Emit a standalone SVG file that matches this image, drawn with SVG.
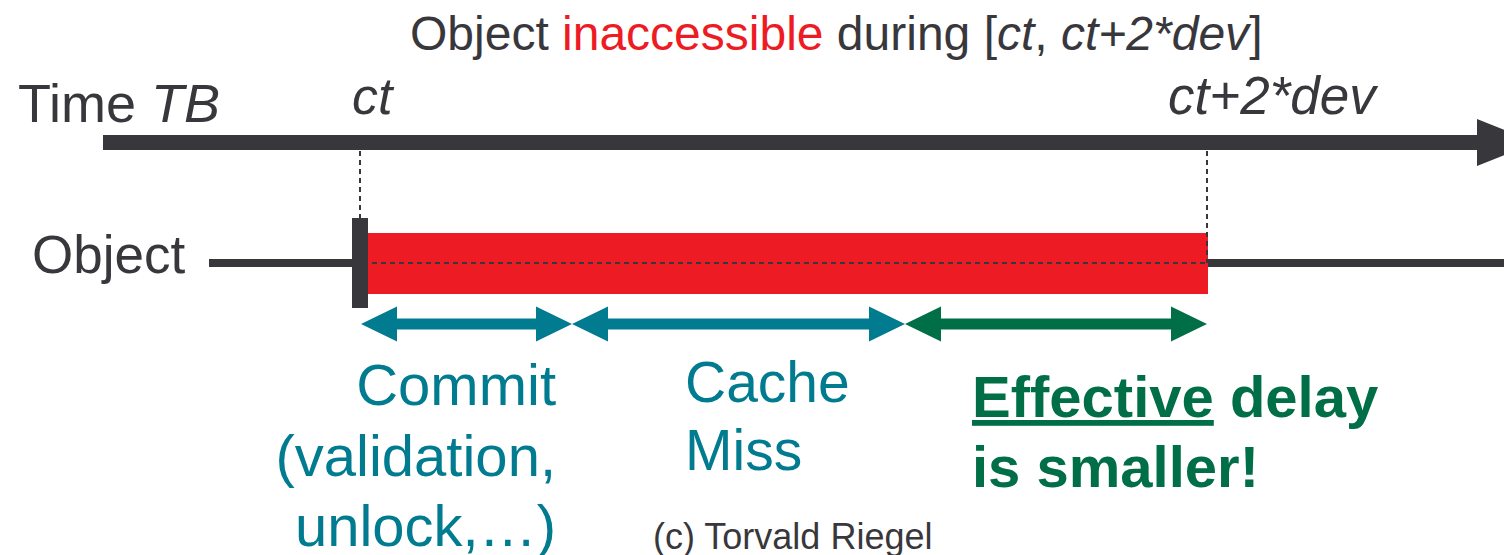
<svg xmlns="http://www.w3.org/2000/svg" width="1504" height="555" viewBox="0 0 1504 555">
  <style>
    text { font-family: "Liberation Sans", Arial, Helvetica, sans-serif; }
    .dark { fill: #38373c; }
    .red { fill: #ed1c24; }
    .teal { fill: #007b8f; }
    .green { fill: #006f47; }
    .it { font-style: italic; }
    .guide { stroke: #38373c; stroke-width: 2; stroke-dasharray: 5 4; fill: none; }
    .lifeline { stroke: #38373c; stroke-width: 8; fill: none; }
  </style>

  <!-- heading -->
  <g id="title">
    <text x="410" y="50" font-size="48" class="dark">Object <tspan class="red">inaccessible</tspan> during [<tspan class="it">ct</tspan>, <tspan class="it">ct+2*dev</tspan>]</text>
  </g>

  <!-- time axis -->
  <g id="time-axis">
    <text x="18" y="122" font-size="54" class="dark">Time <tspan class="it">TB</tspan></text>
    <polygon class="dark" points="103,135 1477,135 1477,119 1536,142.5 1477,166 1477,150 103,150"/>
    <text x="352" y="114" font-size="52" class="dark it">ct</text>
    <text x="1168" y="114" font-size="53" class="dark it">ct+2*dev</text>
  </g>

  <!-- object lifeline -->
  <g id="object">
    <text x="32" y="273" font-size="53" class="dark">Object</text>
    <line class="lifeline" x1="209" y1="263" x2="356" y2="263"/>
    <line class="lifeline" x1="1206" y1="263" x2="1504" y2="263"/>
    <rect id="inaccessible" x="368" y="233" width="840" height="61" class="red"/>
    <rect id="commit-mark" x="352" y="218" width="16" height="90" class="dark"/>
  </g>

  <!-- guide lines -->
  <g id="connectors">
    <line class="guide" x1="360" y1="151" x2="360" y2="218"/>
    <line class="guide" x1="1207" y1="151" x2="1207" y2="263"/>
    <line class="guide" x1="372" y1="263" x2="1207" y2="263"/>

    <!-- span arrows -->
    <polygon id="span-commit" class="teal" points="361,324 397,306.5 397,318.5 536,318.5 536,306.5 572,324 536,341.5 536,329.5 397,329.5 397,341.5"/>
    <polygon id="span-miss" class="teal" points="572,324 608,306.5 608,318.5 869,318.5 869,306.5 905,324 869,341.5 869,329.5 608,329.5 608,341.5"/>
    <polygon id="span-effective" class="green" points="905,324 941,306.5 941,318.5 1171,318.5 1171,306.5 1207,324 1171,341.5 1171,329.5 941,329.5 941,341.5"/>
  </g>

  <!-- span labels -->
  <g id="label-commit">
    <text x="556" y="405" font-size="58" text-anchor="end" class="teal">Commit</text>
    <text x="556" y="476" font-size="58" text-anchor="end" class="teal">(validation,</text>
    <text x="556" y="546" font-size="58" text-anchor="end" class="teal">unlock,…)</text>
  </g>
  <g id="label-miss">
    <text x="685" y="402" font-size="57" class="teal">Cache</text>
    <text x="685" y="470" font-size="57" class="teal">Miss</text>
  </g>
  <g id="label-effective">
    <text x="972" y="417" font-size="58" font-weight="bold" class="green"><tspan text-decoration="underline">Effective</tspan> delay</text>
    <text x="972" y="487" font-size="58" font-weight="bold" class="green">is smaller!</text>
  </g>

  <g id="credit">
    <text x="653" y="549" font-size="36" class="dark">(c) Torvald Riegel</text>
  </g>
</svg>
